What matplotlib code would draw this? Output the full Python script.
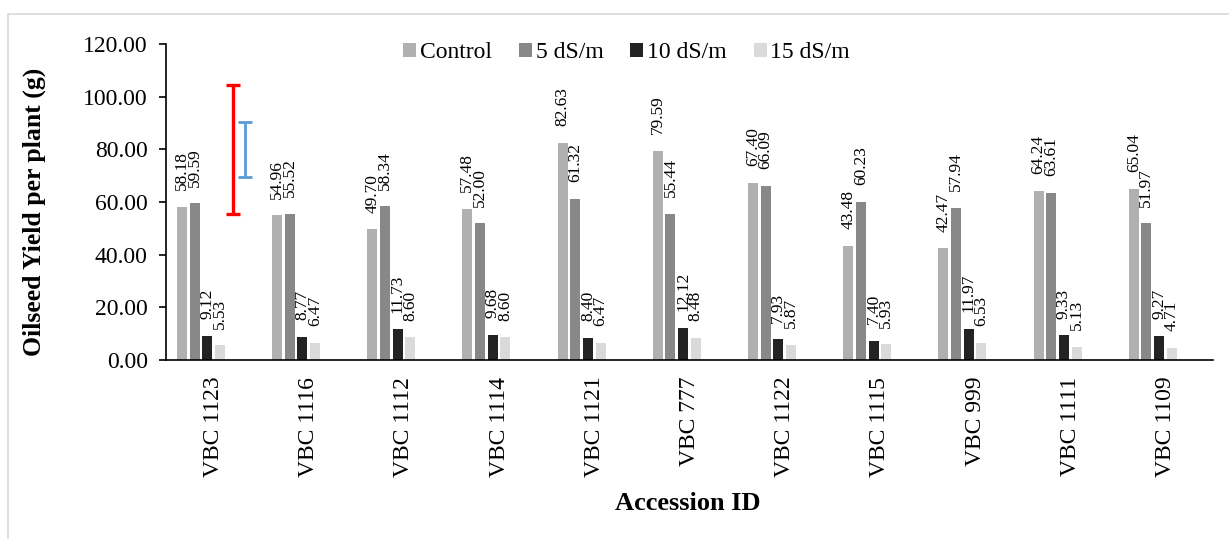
import numpy as np
import matplotlib
matplotlib.use("Agg")
import matplotlib.pyplot as plt
from matplotlib.patches import Rectangle

plt.rcParams['font.family'] = ['Liberation Serif', 'DejaVu Serif']

accessions = ["VBC 1123", "VBC 1116", "VBC 1112", "VBC 1114", "VBC 1121", "VBC 777",
              "VBC 1122", "VBC 1115", "VBC 999", "VBC 1111", "VBC 1109"]
treatments = ["Control", "5 dS/m", "10 dS/m", "15 dS/m"]
control = [58.18, 54.96, 49.70, 57.48, 82.63, 79.59, 67.40, 43.48, 42.47, 64.24, 65.04]
ec5 = [59.59, 55.52, 58.34, 52.00, 61.32, 55.44, 66.09, 60.23, 57.94, 63.61, 51.97]
ec10 = [9.12, 8.77, 11.73, 9.68, 8.40, 12.12, 7.93, 7.40, 11.97, 9.33, 9.27]
ec15 = [5.53, 6.47, 8.60, 8.60, 6.47, 8.48, 5.87, 5.93, 6.53, 5.13, 4.71]

# LSD bars drawn beside the first accession
lsd_center = 80.0
lsd_half = [24.5, 10.4]
lsd_colors = ["#ff0000", "#5b9bd5"]

colors = ["#b0b0b0", "#888888", "#232323", "#dadada"]
series = [control, ec5, ec10, ec15]

fig = plt.figure(figsize=(12.29, 5.39), dpi=100)
ax = fig.add_axes([0.135, 0.332, 0.852, 0.586])

# outer frame
fig.patches.append(Rectangle((8 / 1229, -0.1), 1.2, 1.1 - 14 / 539,
                             transform=fig.transFigure, fill=False,
                             edgecolor="#d9d9d9", linewidth=1.2))

x = np.arange(len(accessions))
step = 0.133
width = 0.105
for i, (vals, col, name) in enumerate(zip(series, colors, treatments)):
    pos = x + (i - 2.5) * step
    ax.bar(pos, vals, width=width, color=col, label=name, zorder=2)
    for px, v in zip(pos, vals):
        ax.annotate(f"{v:.2f}", (px, v), xytext=(0, 12), textcoords="offset points",
                    rotation=90, ha="center", va="bottom", fontsize=12.5)

for j, (h, c) in enumerate(zip(lsd_half, lsd_colors)):
    lw = 2.4 if j == 0 else 2.0
    ax.errorbar(x[0] + (j + 1.5) * step, lsd_center, yerr=h, fmt="none",
                ecolor=c, elinewidth=lw, capsize=5, capthick=lw, zorder=3)

ax.set_xlim(-0.5, len(accessions) - 0.5)
ax.set_ylim(0, 120)
ax.set_yticks(np.arange(0, 121, 20))
ax.set_yticklabels([f"{t:.2f}" for t in np.arange(0, 121, 20)], fontsize=17)
ax.set_xticks(x)
ax.set_xticklabels(accessions, rotation=90, fontsize=17)
ax.tick_params(axis="x", length=0, pad=12)
ax.tick_params(axis="y", length=5, width=1.2, direction="out", pad=8)
for s in ["top", "right"]:
    ax.spines[s].set_visible(False)
ax.spines["left"].set_linewidth(1.2)
ax.spines["bottom"].set_linewidth(1.2)

ax.set_ylabel("Oilseed Yield per plant (g)", fontsize=18.5, fontweight="bold",
              labelpad=27, y=0.47)
fig.text(0.56, 1 - 504 / 539, "Accession ID", fontsize=19, fontweight="bold",
         ha="center", va="center")

ax.legend(loc="upper center", bbox_to_anchor=(0.44, 1.074), ncol=4, frameon=False,
          fontsize=17, handlelength=0.55, handleheight=0.55, handletextpad=0.15,
          columnspacing=1.15)

fig.savefig("out.png", dpi=100)
